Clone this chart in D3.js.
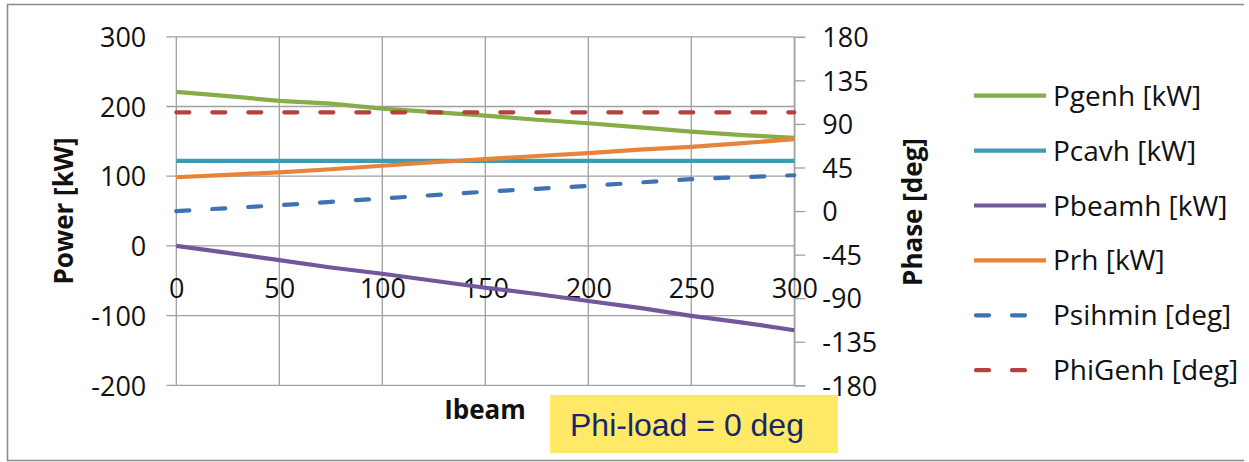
<!DOCTYPE html>
<html><head><meta charset="utf-8">
<script src="https://cdn.jsdelivr.net/npm/d3@7"></script>
<style>html,body{margin:0;padding:0;background:#fff;}svg{display:block;}</style>
</head><body>
<svg id="c" width="1249" height="462"></svg>
<script>
// ---- data ----
const ibeam   = [0, 25, 50, 75, 100, 125, 150, 175, 200, 225, 250, 275, 300];
const pgenh   = [221, 215, 208, 204, 197, 192, 187, 181, 176, 170, 164, 159, 155];
const pcavh   = [122, 122, 122, 122, 122, 122, 122, 122, 122, 122, 122, 122, 122];
const pbeamh  = [0, -10, -20.5, -31, -40, -50, -60, -69, -79, -89, -100.5, -110, -121];
const prh     = [98.5, 102, 105.5, 110, 115, 120, 124.5, 129, 133, 138, 142, 147.5, 153];
const psihmin = [0, 3, 6, 9.5, 13, 16.5, 20, 23, 26, 29.5, 33, 35, 37];
const phigenh = [102, 102, 102, 102, 102, 102, 102, 102, 102, 102, 102, 102, 102];
const xTicks = [0, 50, 100, 150, 200, 250, 300];
const leftTicks = [300, 200, 100, 0, -100, -200];
const rightTicks = [180, 135, 90, 45, 0, -45, -90, -135, -180];
const seriesNames = ["Pgenh [kW]", "Pcavh [kW]", "Pbeamh [kW]", "Prh [kW]", "Psihmin [deg]", "PhiGenh [deg]"];
const axisTitles = {x: "Ibeam", left: "Power [kW]", right: "Phase [deg]"};
const note = "Phi-load = 0 deg";

const series = [
  {name: seriesNames[0], v: pgenh,   axis: "L", color: "#86ad47", dash: null},
  {name: seriesNames[1], v: pcavh,   axis: "L", color: "#3f9bb3", dash: null},
  {name: seriesNames[2], v: pbeamh,  axis: "L", color: "#71579c", dash: null},
  {name: seriesNames[3], v: prh,     axis: "L", color: "#e8843a", dash: null},
  {name: seriesNames[4], v: psihmin, axis: "R", color: "#3f72b3", dash: "13,23"},
  {name: seriesNames[5], v: phigenh, axis: "R", color: "#b5403f", dash: "13,23"}
];

const svg = d3.select("#c");
const FONT = "'Open Sans', 'Noto Sans', sans-serif";

// outer frame (top, left, bottom)
svg.append("path").attr("d", "M1244,4.5 H7.5 V460.5 H1244")
  .attr("fill", "none").attr("stroke", "#8c8c8c").attr("stroke-width", 1.6);

const x = d3.scaleLinear().domain([0, 300]).range([176.3, 794.3]);
const yL = d3.scaleLinear().domain([-200, 300]).range([385.3, 36.8]);
const yR = d3.scaleLinear().domain([-180, 180]).range([385.3, 36.8]);

const grid = "#a0a0a0";
// horizontal gridlines
svg.append("g").selectAll("line").data(leftTicks).join("line")
  .attr("x1", x(0) - 10).attr("x2", x(300))
  .attr("y1", d => yL(d)).attr("y2", d => yL(d))
  .attr("stroke", grid).attr("stroke-width", 1.3);
// vertical gridlines
svg.append("g").selectAll("line").data(xTicks).join("line")
  .attr("x1", d => x(d)).attr("x2", d => x(d))
  .attr("y1", yL(300)).attr("y2", yL(-200))
  .attr("stroke", grid).attr("stroke-width", 1.3);

// right axis ticks
const rAxis = d3.axisRight(yR).tickValues(rightTicks).tickSize(11).tickFormat(d3.format("d"));
const gR = svg.append("g").attr("transform", `translate(${x(300)},0)`).call(rAxis);
gR.select(".domain").attr("stroke", grid).attr("stroke-width", 1.3);
gR.selectAll(".tick line").attr("stroke", grid).attr("stroke-width", 1.3);
gR.selectAll(".tick text").attr("x", 28).attr("dy", "0.36em")
  .attr("font-family", FONT).attr("font-size", 27).attr("fill", "#111")
  .text(d => d < 0 ? "-" + Math.abs(d) : d);

// left axis labels
const lAxis = d3.axisLeft(yL).tickValues(leftTicks).tickSize(0).tickFormat(d => d < 0 ? "-" + Math.abs(d) : d);
const gL = svg.append("g").attr("transform", `translate(${x(0)},0)`).call(lAxis);
gL.select(".domain").remove();
gL.selectAll(".tick text").attr("x", -30).attr("dy", "0.36em")
  .attr("font-family", FONT).attr("font-size", 27).attr("fill", "#111");

// x axis labels (placed below the zero line, as in the reference)
const xAxis = d3.axisBottom(x).tickValues(xTicks).tickSize(0);
const gX = svg.append("g").attr("transform", `translate(0,${yL(0)})`).call(xAxis);
gX.select(".domain").remove();
gX.selectAll(".tick text").attr("y", 42).attr("dy", "0.36em")
  .attr("font-family", FONT).attr("font-size", 27).attr("fill", "#111");

// series lines
series.forEach(s => {
  const ys = s.axis === "L" ? yL : yR;
  const line = d3.line().x((d, i) => x(ibeam[i])).y(d => ys(d));
  svg.append("path").datum(s.v).attr("d", line)
    .attr("fill", "none").attr("stroke", s.color).attr("stroke-width", 4.2)
    .attr("stroke-linecap", s.dash ? "round" : "butt")
    .attr("stroke-linejoin", "round")
    .attr("stroke-dasharray", s.dash);
});

// axis titles
svg.append("text").attr("transform", "translate(73,211) rotate(-90)")
  .attr("text-anchor", "middle").attr("font-family", FONT).attr("font-weight", "bold")
  .attr("font-size", 26).attr("fill", "#111").text(axisTitles.left);
svg.append("text").attr("transform", "translate(922,212) rotate(-90)")
  .attr("text-anchor", "middle").attr("font-family", FONT).attr("font-weight", "bold")
  .attr("font-size", 26).attr("fill", "#111").text(axisTitles.right);
svg.append("text").attr("x", 485).attr("y", 410).attr("dy", "0.36em")
  .attr("text-anchor", "middle").attr("font-family", FONT).attr("font-weight", "bold")
  .attr("font-size", 26).attr("fill", "#111").text(axisTitles.x);

// legend
const lg = svg.append("g");
series.forEach((s, i) => {
  const yy = 95.7 + i * 54.9;
  lg.append("line").attr("x1", s.dash ? 976 : 974).attr("x2", s.dash ? 1030 : 1046)
    .attr("y1", yy).attr("y2", yy)
    .attr("stroke", s.color).attr("stroke-width", 4.2)
    .attr("stroke-linecap", s.dash ? "round" : "butt")
    .attr("stroke-dasharray", s.dash ? "13,23" : null);
  lg.append("text").attr("x", 1053).attr("y", yy).attr("dy", "0.36em")
    .attr("font-family", FONT).attr("font-size", 28).attr("fill", "#111").text(s.name);
});

// note box
svg.append("rect").attr("x", 550).attr("y", 395).attr("width", 288).attr("height", 58)
  .attr("fill", "#ffe966");
svg.append("text").attr("x", 570).attr("y", 424).attr("dy", "0.36em")
  .attr("font-family", "'Liberation Sans', Arial, sans-serif").attr("font-size", 32)
  .attr("fill", "#17276b").text(note);
</script>
</body></html>
